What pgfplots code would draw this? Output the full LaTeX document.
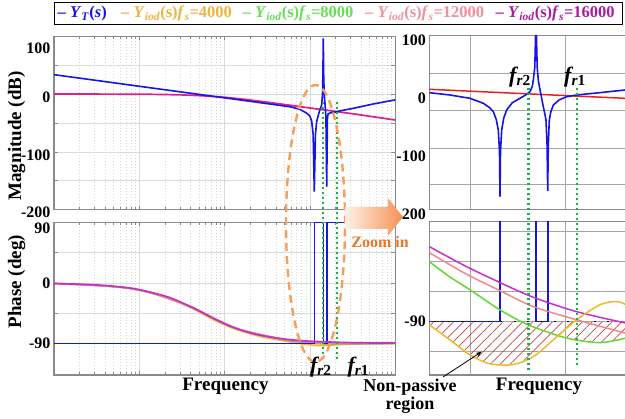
\documentclass[border=0pt]{standalone}
\usepackage{fontspec}
\setmainfont{Liberation Serif}
\usepackage{pgfplots}
\pgfplotsset{compat=1.18}
\usetikzlibrary{patterns.meta,arrows.meta}
\definecolor{cblue}{RGB}{20,20,235}
\definecolor{cyel}{RGB}{240,184,40}
\definecolor{cgreen}{RGB}{100,214,50}
\definecolor{cpink}{RGB}{240,135,140}
\definecolor{cpurp}{RGB}{200,45,210}
\definecolor{cmixed}{RGB}{222,30,140}
\definecolor{cred}{RGB}{236,30,30}
\definecolor{frame}{RGB}{138,138,138}
\definecolor{gmaj}{RGB}{218,218,218}
\definecolor{gmin}{RGB}{215,215,215}
\definecolor{gright}{RGB}{165,165,165}
\definecolor{fgreen}{RGB}{30,175,70}
\definecolor{corange}{RGB}{244,160,90}
\definecolor{ctext}{RGB}{232,118,40}
\definecolor{chatch}{RGB}{195,70,70}
\definecolor{lyel}{RGB}{236,180,64}
\definecolor{lgreen}{RGB}{102,221,85}
\definecolor{lpink}{RGB}{240,144,154}
\definecolor{lpurp}{RGB}{165,30,160}
\pgfplotsset{
  base/.style={scale only axis, anchor=south west,
    axis line style={draw=frame, line width=1.3pt},
    tick label style={font=\bfseries\fontsize{16}{16}\selectfont},
    label style={font=\bfseries\fontsize{19}{19}\selectfont},
    xticklabels={}},
  leftax/.style={base, width=341.2pt, xmin=0, xmax=4, xtick={1,2,3},
    minor xtick={0.301,0.477,0.602,0.699,0.778,0.845,0.903,0.954,
      1.301,1.477,1.602,1.699,1.778,1.845,1.903,1.954,
      2.301,2.477,2.602,2.699,2.778,2.845,2.903,2.954,
      3.301,3.477,3.602,3.699,3.778,3.845,3.903,3.954},
    grid=both, major grid style={draw=gmaj, line width=0.6pt},
    minor grid style={draw=gmin, dash pattern=on 0.6pt off 2.4pt, line width=0.5pt},
    tick align=inside, major tick length=4pt, minor tick length=2.5pt,
    tick style={draw=frame, line width=0.6pt}},
  rightax/.style={base, width=196.7pt, xmin=0, xmax=196.7, xtick={40.7,136.4},
    grid=major, major grid style={draw=gright, line width=0.7pt},
    major tick length=0pt},
}
\begin{document}
\begin{tikzpicture}
\useasboundingbox (0pt,0pt) rectangle (625pt,419pt);

% ---------------- left magnitude
\begin{axis}[leftax, at={(54pt,209.3pt)}, height=173.4pt,
  ymin=-200, ymax=100, ytick={-200,-150,...,100},
  yticklabels={-200,{},-100,{},0,{},{}},
  yticklabel style={yshift=-3pt},
  extra y ticks={100}, extra y tick labels={100},
  extra y tick style={grid=none, major tick length=0pt, yticklabel style={yshift=-9pt}},
  ylabel={Magnitude (dB)},
  ylabel style={at={(axis description cs:-0.1093,0.426)}, anchor=center}]
\addplot[cmixed, line width=1.7pt] coordinates {
(0,0) (0.5,0) (1,-0.2) (1.25,-0.6) (1.5,-1.4) (1.75,-3) (2,-5.5) (2.25,-9.3)
(2.5,-14) (3,-24) (3.5,-34) (4,-44.8)};
\addplot[cblue, line width=1.6pt] coordinates {
(0,33.6) (0.5,23.6) (1,13.5) (1.5,3.5) (2,-6.5) (2.5,-16.5) (2.77,-22) (2.884,-26.5)
(2.9625,-33) (3.0,-38) (3.0211,-47) (3.038,-70) (3.0516,-168.9) (3.065,-70) (3.08,-47)
(3.11,-30.4) (3.138,-18.9) (3.148,0) (3.152,30) (3.1571,96.5) (3.162,30) (3.168,0)
(3.18,-22) (3.188,-40) (3.197,-160) (3.206,-40) (3.215,-34) (3.25,-32) (3.3,-31)
(3.353,-29) (3.509,-24.6) (3.743,-17.1) (4,-10)};
\end{axis}

% ---------------- left phase
\begin{axis}[leftax, at={(54pt,44pt)}, height=152.7pt,
  ymin=-137, ymax=90, ytick={-90,-45,0,45,90},
  yticklabels={-90,{},0,{},{}},
  extra y ticks={90}, extra y tick labels={90},
  extra y tick style={grid=none, major tick length=0pt, yticklabel style={yshift=-6pt}},
  ylabel={Phase (deg)},
  ylabel style={at={(axis description cs:-0.1093,0.611)}, anchor=center},
  xlabel={Frequency},
  xlabel style={at={(axis description cs:0.5026,-0.0766)}, anchor=center}]
\addplot[cyel, line width=1.7pt, smooth] coordinates {
(0,-1) (0.5,-3.4) (0.93,-9.2) (1.32,-21.5) (1.594,-36.3) (1.75,-46.5) (1.9,-56.5)
(2.102,-67.8) (2.415,-79.5) (2.688,-86) (2.9,-90.5) (3.05,-92.8) (3.2,-93)
(3.35,-91.5) (3.5,-90) (3.75,-89.3) (4,-89.5)};
\addplot[cgreen, line width=1.7pt, smooth] coordinates {
(0,-1) (0.93,-8.8) (1.594,-35.4) (2.102,-66.6) (2.688,-84.5) (3.0,-89.2) (3.2,-91)
(3.4,-91.3) (3.6,-90.8) (4,-90.2)};
\addplot[cpink, line width=1.7pt, smooth] coordinates {
(0,-1) (0.93,-8.7) (1.594,-35.1) (2.102,-66.2) (2.688,-83.8) (3.0,-88.2) (3.2,-90)
(3.4,-90.6) (3.6,-90.5) (4,-90)};
\addplot[cblue, line width=1.6pt] coordinates {
(0,-90) (3.0516,-90) (3.0516,90) (3.1571,90) (3.1571,-90) (3.197,-90) (3.197,90) (4,90)};
\addplot[cpurp, line width=1.7pt, smooth] coordinates {
(0,-1) (0.5,-3.2) (0.93,-8.6) (1.32,-20.4) (1.594,-34.9) (1.75,-45) (1.9,-54.7)
(2.102,-66) (2.25,-72.4) (2.415,-77.8) (2.688,-83.4) (3.0,-86.8) (3.5,-89) (4,-89.5)};
\end{axis}

% ---------------- right magnitude
\begin{axis}[rightax, at={(429.3pt,209.3pt)}, height=174.4pt,
  ymin=-200, ymax=100, ytick={-155.8,-93.9,-28.5,35.2}, yticklabels={},
  extra y ticks={-200,-100,0,100}, extra y tick labels={-200,-100,0,100},
  extra y tick style={grid=none, major tick length=0pt, yticklabel style={yshift=-5pt}}]
\addplot[cred, line width=1.5pt] coordinates {(0,7.1) (196.7,-8.5)};
\addplot[cblue, line width=1.6pt] coordinates {
(0,1.3) (20.7,-2.7) (40.7,-8.4) (54,-17) (60,-24) (64,-31.4) (67,-45) (69,-62.9)
(70.2,-100) (70.7,-177.6) (71.2,-100) (72.4,-62.9) (74.5,-42) (77.4,-28.5) (83,-16)
(90.7,-8.4) (96,-3) (100.7,3) (103,12) (104,23) (105.5,45) (106.7,130) (107.9,45)
(109,23) (110.5,8) (112,-5) (114,-22.8) (115.5,-35) (116.7,-45.7) (117.8,-90)
(118.4,-167.8) (119,-90) (120,-45.7) (121.5,-32) (124,-20) (130,-11) (137.4,-5.6)
(147.4,-2.7) (160,-0.5) (170.7,1.3) (183,3.6) (196.7,6)};
\end{axis}

% ---------------- right phase
\begin{axis}[rightax, at={(429.3pt,44pt)}, height=153.3pt,
  ymin=-107.8, ymax=-56.7, ytick={-100,-90,-80,-70,-60},
  yticklabels={{},-90,{},{},{}},
  xlabel={Frequency},
  xlabel style={at={(axis description cs:0.5577,-0.0763)}, anchor=center}]
\addplot[draw=none, pattern={Lines[angle=45,distance=7pt,line width=0.7pt]},
  pattern color=chatch] coordinates {
(0,-90) (0,-91.1) (20.7,-96.1) (40.7,-101.1) (60.7,-104.1) (84,-104.3) (104,-101.7)
(124,-96.1) (129,-94.6) (137.4,-95.5) (170.7,-97) (196.7,-95.5) (196.7,-90)};
\addplot[cblue, line width=1.6pt] coordinates {
(0,-90) (70.7,-90) (70.7,90) (106.7,90) (106.7,-90) (118.4,-90) (118.4,90) (196.7,90)};
\addplot[black, line width=1.6pt, dash pattern=on 1.6pt off 11.7pt] coordinates {(5,-90) (196.7,-90)};
\addplot[cpurp, line width=1.5pt, smooth] coordinates {
(0,-65) (35,-71.3) (70.7,-77) (104,-81.9) (147.4,-86.7) (196.7,-90.5)};
\addplot[cpink, line width=1.5pt, smooth] coordinates {
(0,-67) (35,-73.8) (70.7,-79.7) (104,-85) (147.4,-89.4) (196.7,-93.9)};
\addplot[cgreen, line width=1.5pt, smooth] coordinates {
(0,-70) (20,-75) (40.7,-79.4) (70.7,-86.1) (99,-91.1) (137.4,-95.5) (170.7,-97) (196.7,-95.5)};
\addplot[cyel, line width=1.5pt, smooth] coordinates {
(0,-91.1) (20.7,-96.1) (40.7,-101.1) (60.7,-104.1) (84,-104.3) (104,-101.7) (124,-96.1)
(147.4,-89.4) (170.7,-84.4) (187.4,-83.3) (196.7,-84.4)};
\end{axis}

% ---------------- annotations
\begin{scope}[x=1pt,y=1pt]
% green dotted resonance markers
\draw[fgreen, line width=2.4pt, dash pattern=on 2.4pt off 2.6pt] (322.7,317.3) -- (322.7,59);
\draw[fgreen, line width=2.4pt, dash pattern=on 2.4pt off 2.6pt] (336.7,317.3) -- (336.7,59);
\draw[fgreen, line width=2.4pt, dash pattern=on 2.4pt off 2.6pt] (528.3,331) -- (528.3,49);
\draw[fgreen, line width=2.4pt, dash pattern=on 2.4pt off 2.6pt] (576.7,331) -- (576.7,52);
% orange dashed ellipse
\draw[corange, line width=2.4pt, dash pattern=on 8pt off 5pt] (315.5,195.5) ellipse (29.5 and 138.5);
% zoom arrow
\shade[left color=corange!15, right color=corange!90!red]
  (345,212) -- (388,212) -- (388,221) -- (403,202) -- (388,183) -- (388,190) -- (345,190) -- cycle;
\node[text=ctext, font=\bfseries\fontsize{16}{16}\selectfont] at (380,176.7) {Zoom in};
% f_r labels
\node[font=\bfseries\itshape\fontsize{22}{22}\selectfont] at (320.8,52.3) {f\textsubscript{r\upshape 2}};
\node[font=\bfseries\itshape\fontsize{22}{22}\selectfont] at (358.3,52.3) {f\textsubscript{r\upshape 1}};
\node[font=\bfseries\itshape\fontsize{22}{22}\selectfont] at (520,342) {f\textsubscript{r\upshape 2}};
\node[font=\bfseries\itshape\fontsize{22}{22}\selectfont] at (575,342) {f\textsubscript{r\upshape 1}};
% non-passive region
\node[font=\bfseries\fontsize{18}{18}\selectfont, inner sep=0pt] at (410,32.3) {Non-passive};
\node[font=\bfseries\fontsize{18}{18}\selectfont, inner sep=0pt] at (410,13.5) {region};
\draw[-{Stealth[length=6pt]}, line width=0.8pt] (443,42) -- (481.7,67.3);
% legend
\draw[line width=1pt] (54,394) rectangle (622,416.5);
\begin{scope}[every node/.style={anchor=west, inner sep=0pt, font=\bfseries\fontsize{16.5}{16.5}\selectfont}]
\node[text=cblue] at (57.5,405.2) {– \textit{Y}\textsubscript{\textit{T}}(\textit{s})};
\node[text=lyel] at (121,405.2) {– \textit{Y}\textsubscript{\textit{iod}}(s)\textit{f}\textsubscript{\textit{s}}=4000};
\node[text=lgreen] at (242.5,405.2) {– \textit{Y}\textsubscript{\textit{iod}}(s)\textit{f}\textsubscript{\textit{s}}=8000};
\node[text=lpink] at (365,405.2) {– \textit{Y}\textsubscript{\textit{iod}}(s)\textit{f}\textsubscript{\textit{s}}=12000};
\node[text=lpurp] at (495.5,405.2) {– \textit{Y}\textsubscript{\textit{iod}}(s)\textit{f}\textsubscript{\textit{s}}=16000};
\end{scope}
\end{scope}
\end{tikzpicture}
\end{document}
